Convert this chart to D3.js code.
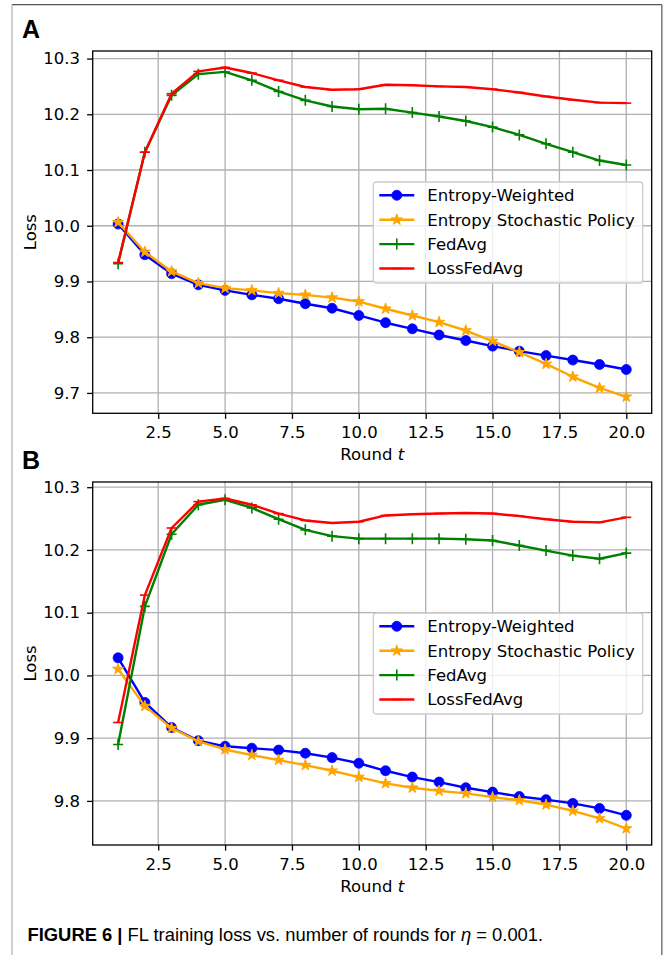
<!DOCTYPE html>
<html>
<head>
<meta charset="utf-8">
<script src="https://cdn.jsdelivr.net/npm/d3@7"></script>
<style>
  body { margin: 0; background: #fff; }
  svg { display: block; }
</style>
</head>
<body>
<div id="chart"></div>
<script>
// values
const rounds = [1, 2, 3, 4, 5, 6, 7, 8, 9, 10, 11, 12, 13, 14, 15, 16, 17, 18, 19, 20];
const xTicks = [2.5, 5.0, 7.5, 10.0, 12.5, 15.0, 17.5, 20.0];
const yTicksA = [9.7, 9.8, 9.9, 10.0, 10.1, 10.2, 10.3];
const yTicksB = [9.8, 9.9, 10.0, 10.1, 10.2, 10.3];

const seriesNames = ["Entropy-Weighted", "Entropy Stochastic Policy", "FedAvg", "LossFedAvg"];
const seriesColors = ["#0000ff", "#ffa500", "#008000", "#ff0000"];
const seriesMarkers = ["circle", "star", "plus", "hline"];

// panel A
const entropyWeightedA = [10.003, 9.948, 9.914, 9.894, 9.884, 9.876, 9.869, 9.860, 9.852, 9.839,
                          9.826, 9.815, 9.804, 9.794, 9.784, 9.775, 9.767, 9.759, 9.751, 9.742];
const stochasticA      = [10.006, 9.953, 9.918, 9.897, 9.888, 9.884, 9.879, 9.876, 9.871, 9.864,
                          9.851, 9.839, 9.827, 9.812, 9.793, 9.773, 9.752, 9.729, 9.709, 9.693];
const fedAvgA          = [9.932, 10.132, 10.234, 10.272, 10.276, 10.261, 10.241, 10.225, 10.214, 10.209,
                          10.210, 10.203, 10.196, 10.188, 10.177, 10.163, 10.147, 10.132, 10.117, 10.109];
const lossFedAvgA      = [9.934, 10.132, 10.237, 10.277, 10.284, 10.274, 10.261, 10.249, 10.244, 10.245,
                          10.253, 10.252, 10.250, 10.249, 10.245, 10.239, 10.232, 10.226, 10.221, 10.220];

// panel B
const entropyWeightedB = [10.028, 9.957, 9.917, 9.896, 9.887, 9.884, 9.881, 9.876, 9.869, 9.860,
                          9.848, 9.838, 9.830, 9.821, 9.814, 9.807, 9.802, 9.796, 9.788, 9.777];
const stochasticB      = [10.010, 9.951, 9.916, 9.895, 9.882, 9.873, 9.865, 9.857, 9.848, 9.838,
                          9.828, 9.821, 9.816, 9.812, 9.806, 9.801, 9.794, 9.784, 9.772, 9.756];
const fedAvgB          = [9.890, 10.110, 10.225, 10.272, 10.280, 10.267, 10.249, 10.232, 10.222, 10.218,
                          10.218, 10.218, 10.218, 10.217, 10.215, 10.207, 10.199, 10.191, 10.186, 10.195];
const lossFedAvgB      = [9.925, 10.128, 10.235, 10.277, 10.282, 10.272, 10.258, 10.247, 10.243, 10.245,
                          10.255, 10.257, 10.258, 10.259, 10.258, 10.254, 10.249, 10.245, 10.244, 10.252];

const panels = [
  {label: "A", top: 51, bottom: 413.3, yTicks: yTicksA,
   values: [entropyWeightedA, stochasticA, fedAvgA, lossFedAvgA]},
  {label: "B", top: 482, bottom: 845, yTicks: yTicksB,
   values: [entropyWeightedB, stochasticB, fedAvgB, lossFedAvgB]}
];

const W = 664, H = 955;
const left = 92.7, right = 651.7;
const font = "'DejaVu Sans', sans-serif";
const fs = "16.5px";

const svg = d3.select("#chart").append("svg")
  .attr("width", W)
  .attr("height", H);

// outer figure frame
svg.append("line").attr("x1", 12).attr("x2", 662).attr("y1", 4.7).attr("y2", 4.7)
  .attr("stroke", "#555").attr("stroke-width", 1.3);
svg.append("line").attr("x1", 12).attr("x2", 12).attr("y1", 4.7).attr("y2", H)
  .attr("stroke", "#b5b5b5").attr("stroke-width", 1.3);
svg.append("line").attr("x1", 661.8).attr("x2", 661.8).attr("y1", 4.7).attr("y2", H)
  .attr("stroke", "#808080").attr("stroke-width", 1.6);

function markerPath(kind) {
  if (kind === "star") return d3.symbol(d3.symbolStar).size(38)();
  if (kind === "plus") return "M-5,0H5M0,-5.5V5.5";
  if (kind === "hline") return "M-5,0H5";
  return null;
}

function drawMarker(g, kind, color) {
  if (kind === "circle") {
    g.append("circle").attr("r", 5).attr("fill", color).attr("stroke", color).attr("stroke-width", 0.8);
  } else if (kind === "star") {
    g.append("path").attr("d", markerPath(kind)).attr("fill", color)
      .attr("stroke", color).attr("stroke-width", 1).attr("stroke-linejoin", "miter");
  } else {
    g.append("path").attr("d", markerPath(kind)).attr("fill", "none")
      .attr("stroke", color).attr("stroke-width", 1.6);
  }
}

panels.forEach(p => {
  const all = p.values.flat();
  const lo = d3.min(all), hi = d3.max(all), pad = (hi - lo) * 0.05;

  const x = d3.scaleLinear().domain([1 - 0.95, 20 + 0.95]).range([left, right]);
  const y = d3.scaleLinear().domain([lo - pad, hi + pad]).range([p.bottom, p.top]);

  const g = svg.append("g");

  // grid
  g.selectAll(".gx").data(xTicks).enter().append("line")
    .attr("x1", d => x(d)).attr("x2", d => x(d))
    .attr("y1", p.top).attr("y2", p.bottom)
    .attr("stroke", "#b0b0b0").attr("stroke-width", 1.3);
  g.selectAll(".gy").data(p.yTicks).enter().append("line")
    .attr("x1", left).attr("x2", right)
    .attr("y1", d => y(d)).attr("y2", d => y(d))
    .attr("stroke", "#b0b0b0").attr("stroke-width", 1.3);

  // series
  const line = d3.line().x((d, i) => x(rounds[i])).y(d => y(d));
  p.values.forEach((vals, si) => {
    const color = seriesColors[si];
    g.append("path").datum(vals)
      .attr("d", line)
      .attr("fill", "none")
      .attr("stroke", color)
      .attr("stroke-width", 2.4)
      .attr("stroke-linejoin", "round");
    vals.forEach((v, i) => {
      const m = g.append("g").attr("transform", "translate(" + x(rounds[i]) + "," + y(v) + ")");
      drawMarker(m, seriesMarkers[si], color);
    });
  });

  // frame
  g.append("rect")
    .attr("x", left).attr("y", p.top)
    .attr("width", right - left).attr("height", p.bottom - p.top)
    .attr("fill", "none").attr("stroke", "#000").attr("stroke-width", 1.3);

  // axes
  const xAxis = g.append("g")
    .attr("transform", "translate(0," + p.bottom + ")")
    .call(d3.axisBottom(x).tickValues(xTicks).tickFormat(d3.format(".1f")).tickSize(5.6).tickPadding(7.5));
  const yAxis = g.append("g")
    .attr("transform", "translate(" + left + ",0)")
    .call(d3.axisLeft(y).tickValues(p.yTicks).tickFormat(d3.format(".1f")).tickSize(5.6).tickPadding(7));
  [xAxis, yAxis].forEach(a => {
    a.select(".domain").remove();
    a.selectAll("line").attr("stroke", "#000").attr("stroke-width", 1.3);
    a.selectAll("text").attr("fill", "#000").style("font-family", font).style("font-size", fs);
  });

  // axis titles
  const xt = g.append("text")
    .attr("x", (left + right) / 2).attr("y", p.bottom + 47)
    .attr("text-anchor", "middle")
    .style("font-family", font).style("font-size", fs);
  xt.append("tspan").text("Round ");
  xt.append("tspan").style("font-style", "italic").text("t");

  g.append("text")
    .attr("transform", "translate(36," + ((p.top + p.bottom) / 2) + ") rotate(-90)")
    .attr("text-anchor", "middle")
    .style("font-family", font).style("font-size", fs)
    .text("Loss");

  // panel letter
  g.append("text")
    .attr("x", 22).attr("y", p.top - 12.7)
    .style("font-family", "'Liberation Sans', Arial, sans-serif")
    .style("font-size", "25px").style("font-weight", "bold")
    .text(p.label);

  // legend
  const lx = 373.3, ly = p.top + 131, lw = 269.4, lh = 101;
  const legend = g.append("g").attr("transform", "translate(" + lx + "," + ly + ")");
  legend.append("rect")
    .attr("width", lw).attr("height", lh).attr("rx", 3)
    .attr("fill", "#fff").attr("fill-opacity", 0.8)
    .attr("stroke", "#cccccc").attr("stroke-width", 1.3);
  const items = legend.selectAll(".item").data(seriesNames).enter().append("g")
    .attr("transform", (d, i) => "translate(0," + (13.3 + i * 24.4) + ")");
  items.append("line")
    .attr("x1", 6).attr("x2", 41)
    .attr("stroke", (d, i) => seriesColors[i]).attr("stroke-width", 2.4);
  items.each(function(d, i) {
    const m = d3.select(this).append("g").attr("transform", "translate(23.5,0)");
    drawMarker(m, seriesMarkers[i], seriesColors[i]);
  });
  items.append("text")
    .attr("x", 54).attr("dy", "0.36em")
    .style("font-family", font).style("font-size", fs)
    .text(d => d);
});

// caption
const cap = svg.append("text")
  .attr("x", 0).attr("y", 0)
  .style("font-family", "'Liberation Sans Narrow', 'Liberation Sans', Arial, sans-serif")
  .style("font-size", "17.5px");
cap.append("tspan").style("font-weight", "bold").text("FIGURE 6 | ");
cap.append("tspan").text("FL training loss vs. number of rounds for ");
cap.append("tspan").style("font-style", "italic").text("η");
cap.append("tspan").text(" = 0.001.");
const cw = cap.node().getComputedTextLength();
cap.attr("transform", "translate(27.5,940.5) scale(" + (516 / cw) + ",1)");
</script>
</body>
</html>
